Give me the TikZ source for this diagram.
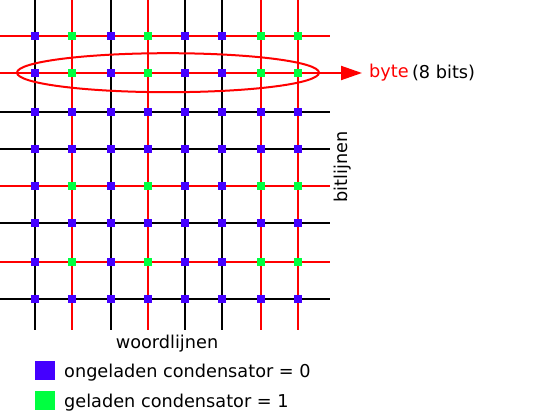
\documentclass[tikz,border=0pt]{standalone}
\usepackage{fontspec}
\setmainfont{DejaVu Sans}
\usetikzlibrary{arrows.meta}
\definecolor{cellblue}{RGB}{68,0,255}
\definecolor{cellgreen}{RGB}{0,255,64}
\definecolor{linered}{RGB}{255,0,0}
\tikzset{
  gridline/.style={line width=2pt},
  cell/.style={minimum size=8.5pt, inner sep=0pt, outer sep=0pt, draw=none},
  legendbox/.style={minimum size=19.5pt, inner sep=0pt, draw=none},
  lbl/.style={font=\fontsize{17.7}{20}\selectfont, inner sep=0pt},
}
\begin{document}
\begin{tikzpicture}[x=1pt,y=-1pt]
\useasboundingbox (0,0) rectangle (550,420);
% column x positions and colours
\def\colx{35/0,72/1,111/0,148/1,185/0,222/0,261/1,298/1}
\def\rowy{36/1,73/1,112/0,149/0,186/1,223/0,262/1,299/0}
% horizontal lines (bit lines)
\foreach \y/\r in \rowy {
  \ifnum\r=1 \def\lc{linered}\else\def\lc{black}\fi
  \coordinate (hl-\y) at (0,\y);
  \coordinate (hr-\y) at (330,\y);
  \draw[gridline, draw=\lc] (hl-\y) -- (hr-\y);
}
% vertical lines (word lines)
\foreach \x/\c in \colx {
  \ifnum\c=1 \def\lc{linered}\else\def\lc{black}\fi
  \coordinate (vt-\x) at (\x,0);
  \coordinate (vb-\x) at (\x,330);
  \draw[gridline, draw=\lc] (vt-\x) -- (vb-\x);
}
% cells
\foreach \x/\c in \colx {
  \foreach \y/\r in \rowy {
    \pgfmathtruncatemacro{\g}{\c*\r}
    \ifnum\g=1 \def\fc{cellgreen}\else\def\fc{cellblue}\fi
    \node[cell, fill=\fc] (c-\x-\y) at (\x,\y) {};
  }
}
% byte ellipse and arrow
\draw[line width=2pt, linered] (168,72.7) ellipse [x radius=151, y radius=19.5];
\node[lbl, anchor=west, text=linered] (byte) at (369,73) {byte};
\node[lbl, anchor=west] (bits) at (byte.east) {\,(8 bits)};
\draw[line width=2pt, linered, shorten >=7pt, -{Triangle[length=21pt,width=14pt]}] (hr-73) -- (byte.west);
% labels
\node[lbl, rotate=90] (bitl) at (343,167) {bitlijnen};
\node[lbl] (woordl) at (167,343.5) {woordlijnen};
% legend
\node[legendbox, fill=cellblue] (lb) at (45,370.5) {};
\node[legendbox, fill=cellgreen] (lg) at (45,400.5) {};
\node[lbl, anchor=west] (lbt) at (64,372.5) {ongeladen condensator = 0};
\node[lbl, anchor=west] (lgt) at (64,402.5) {geladen condensator = 1};
\end{tikzpicture}
\end{document}
